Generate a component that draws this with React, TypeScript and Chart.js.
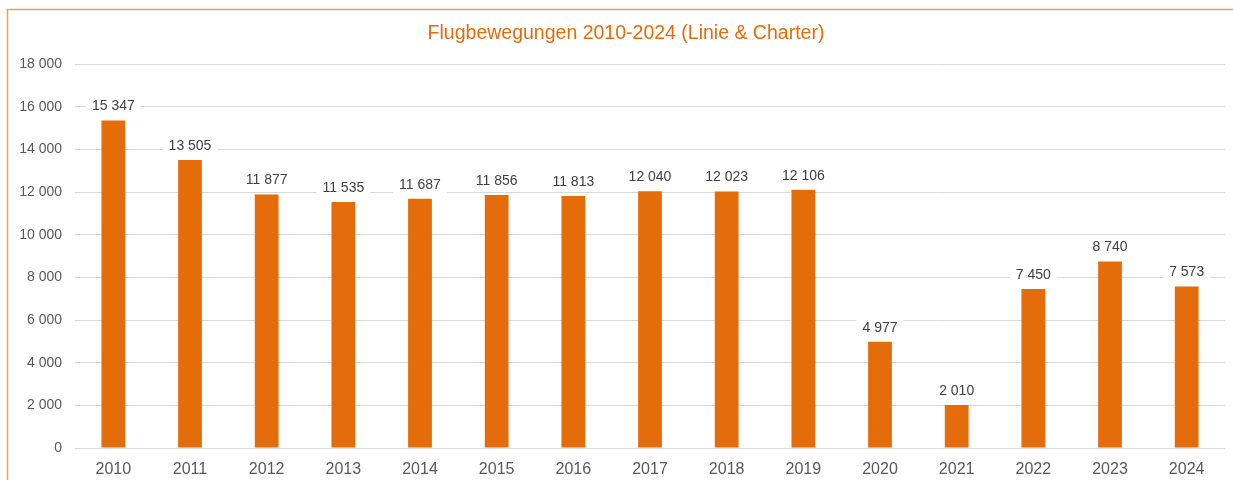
import React, { useEffect, useRef } from "react";
import { Chart, registerables } from "chart.js";

Chart.register(...registerables);

const years = ["2010","2011","2012","2013","2014","2015","2016","2017","2018","2019","2020","2021","2022","2023","2024"];
const movements = [15347, 13505, 11877, 11535, 11687, 11856, 11813, 12040, 12023, 12106, 4977, 2010, 7450, 8740, 7573];
const chartTitle = "Flugbewegungen 2010-2024 (Linie & Charter)";

const ORANGE = "#E46C0A";
const FONT = "'Liberation Sans', Arial, sans-serif";

const fmt = (v: number) => {
  const s = Math.round(v).toString();
  return s.replace(/\B(?=(\d{3})+(?!\d))/g, " ");
};

const labelPlugin = {
  id: "valueLabels",
  afterDatasetsDraw(chart: any) {
    const ctx = chart.ctx;
    const meta = chart.getDatasetMeta(0);
    ctx.save();
    ctx.font = `14px ${FONT}`;
    ctx.textAlign = "center";
    ctx.textBaseline = "middle";
    meta.data.forEach((bar: any, i: number) => {
      const text = fmt(movements[i]);
      const w = ctx.measureText(text).width;
      const x = bar.x;
      const y = bar.y - 14;
      ctx.fillStyle = "#ffffff";
      ctx.fillRect(x - w / 2 - 6, y - 9, w + 12, 18);
      ctx.fillStyle = "#404040";
      ctx.fillText(text, x, y);
    });
    ctx.restore();
  },
};

const framePlugin = {
  id: "frameAndTitle",
  afterDraw(chart: any) {
    const ctx = chart.ctx;
    ctx.save();
    ctx.strokeStyle = "#F39C55";
    ctx.lineWidth = 1.5;
    ctx.beginPath();
    ctx.moveTo(7.5, 490);
    ctx.lineTo(7.5, 9.5);
    ctx.lineTo(1240, 9.5);
    ctx.stroke();
    ctx.font = `19.5px ${FONT}`;
    ctx.fillStyle = ORANGE;
    ctx.textAlign = "center";
    ctx.textBaseline = "middle";
    ctx.fillText(chartTitle, 626, 34);
    ctx.restore();
  },
};

export default function App() {
  const ref = useRef<HTMLCanvasElement | null>(null);
  useEffect(() => {
    if (!ref.current) return;
    const chart = new Chart(ref.current, {
      type: "bar",
      data: {
        labels: years,
        datasets: [
          {
            data: movements,
            backgroundColor: ORANGE,
            borderWidth: 0,
            barPercentage: 0.31,
            categoryPercentage: 1,
          },
        ],
      },
      options: {
        animation: false,
        responsive: false,
        maintainAspectRatio: false,
        layout: { padding: { top: 64, right: 8, left: 0, bottom: 0 } },
        plugins: {
          legend: { display: false },
          title: { display: false },
          tooltip: { enabled: false },
        },
        scales: {
          x: {
            grid: { display: false },
            border: { display: false },
            ticks: { color: "#595959", font: { family: FONT, size: 16 }, padding: 4 },
            afterFit: (s: any) => { s.height = 32; },
          },
          y: {
            min: 0,
            max: 18000,
            ticks: {
              stepSize: 2000,
              color: "#595959",
              font: { family: FONT, size: 14 },
              padding: 13,
              callback: (v: any) => fmt(Number(v)),
            },
            grid: { color: "#d9d9d9", lineWidth: 1, drawTicks: false },
            border: { display: false },
            afterFit: (s: any) => { s.width = 75; },
          },
        },
      },
      plugins: [labelPlugin, framePlugin],
    });
    return () => chart.destroy();
  }, []);
  return (
    <div style={{ position: "fixed", left: 0, top: 0, width: 1233, height: 480, background: "#fff", overflow: "hidden" }}>
      <canvas ref={ref} width={1233} height={480} style={{ position: "absolute", left: 0, top: 0, display: "block" }} />
    </div>
  );
}
